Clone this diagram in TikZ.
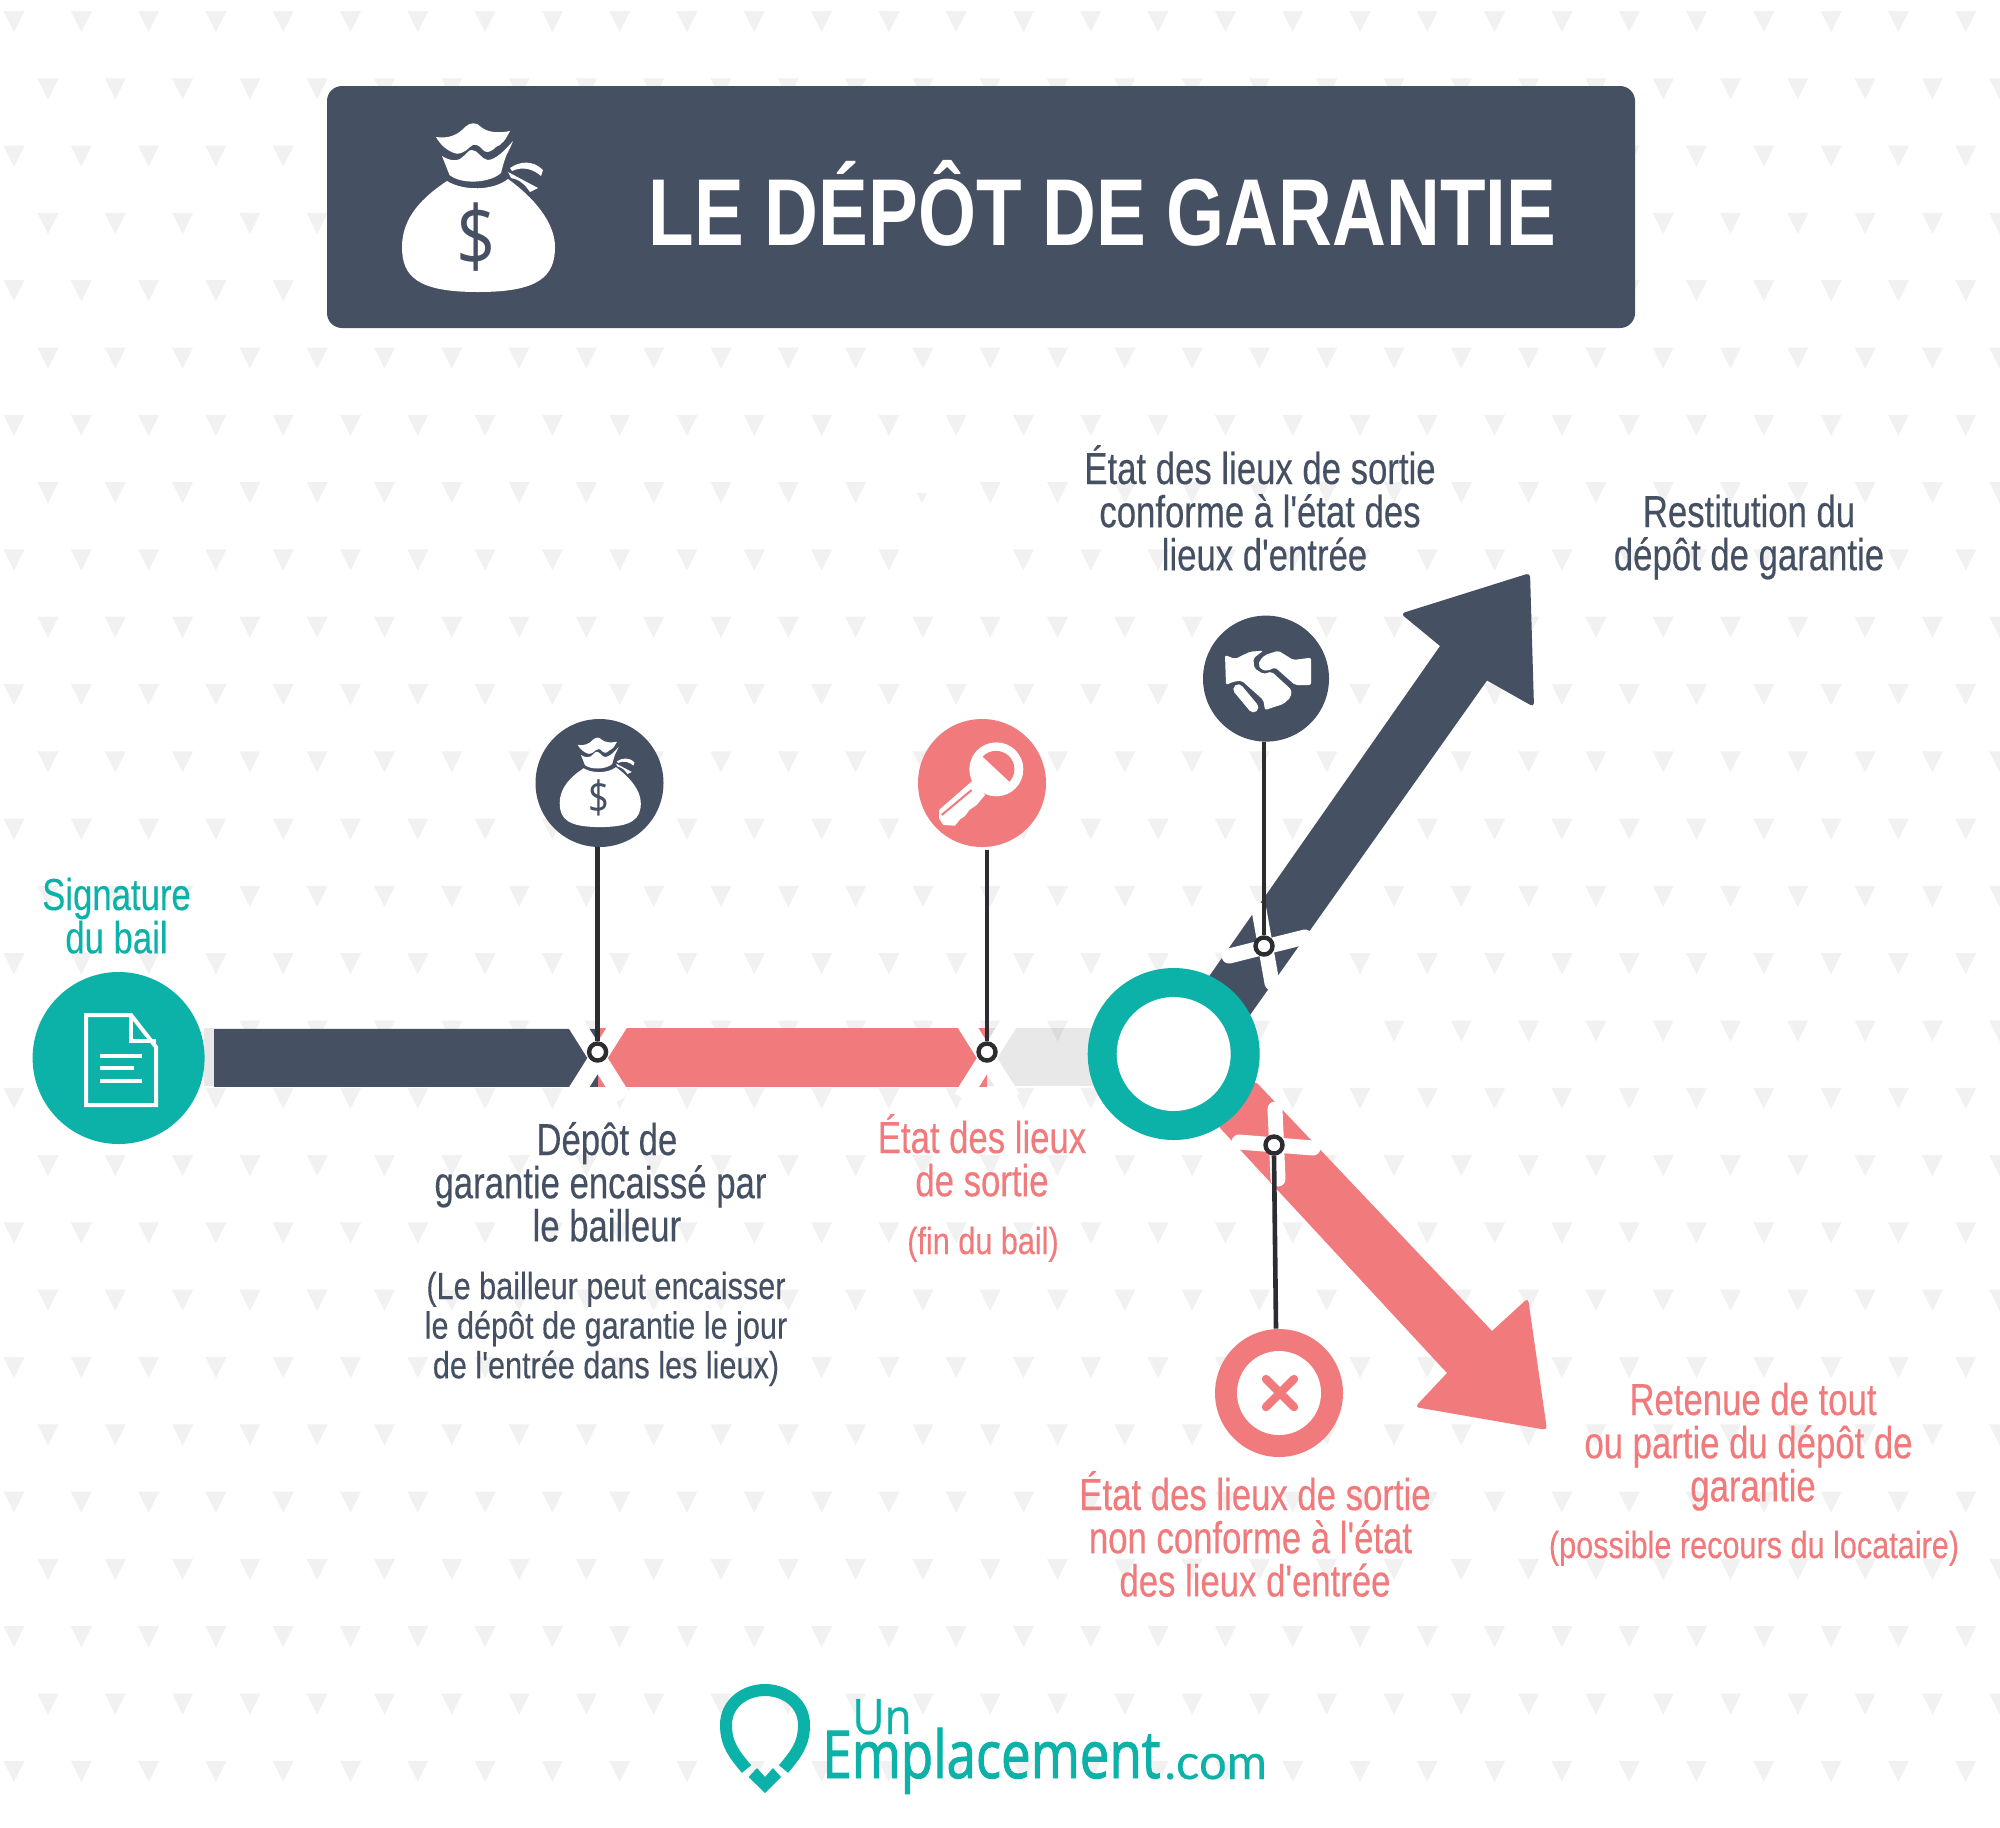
\documentclass[tikz,border=0pt]{standalone}
\usepackage{fontspec}
\setmainfont{Liberation Sans}
\newfontfamily\titlefont[FakeStretch=0.785]{Liberation Sans Bold}
\newfontfamily\bodyfont[FakeStretch=0.775,FakeBold=0.25]{Liberation Sans}
\newfontfamily\smallbodyfont[FakeStretch=0.81,FakeBold=0.25]{Liberation Sans}
\newfontfamily\dollarfont[FakeStretch=0.82]{Open Sans}
\newfontfamily\logofont[FakeStretch=0.8,FakeBold=1.4]{Open Sans}
\newfontfamily\unfont[FakeStretch=0.9,FakeBold=0.4]{Open Sans}
\newfontfamily\comfont[FakeBold=0.3]{Lato}
\definecolor{navy}{HTML}{465063}
\definecolor{rose}{HTML}{F07A7C}
\definecolor{teal}{HTML}{0CB1A7}
\definecolor{pinline}{HTML}{2B2D30}
\definecolor{tri}{HTML}{F1F1F1}
\newcommand{\maintext}{\fontsize{22.4}{21.6}\selectfont}
\newcommand{\smalltext}{\fontsize{18.9}{19.8}\selectfont}
\newcommand{\blk}[1]{\begin{tabular}[t]{@{}c@{}}#1\end{tabular}}
\newcommand{\ls}[1]{\smash{#1}}
\tikzset{
  bigtext/.style={anchor=base,inner sep=0pt,font=\bodyfont\maintext},
  smalltxt/.style={anchor=base,inner sep=0pt,font=\smallbodyfont\smalltext},
  disc/.style={circle,inner sep=0pt,minimum size=64pt},
  ringdot/.style={circle,inner sep=0pt,minimum size=8.5pt,fill=white,draw=pinline,line width=2.2pt},
  pinl/.style={draw=pinline,line width=2.3pt},
  xarm/.style={draw=white,line width=7.5pt,line cap=round},
  railx/.style={draw=white,line width=8.6pt,line cap=butt},
  moneybag/.pic={
    \fill[white] (-31,-26) .. controls (-15,-16) and (15,-16) .. (30,-28)
      .. controls (55,-10) and (77,15) .. (77,40)
      .. controls (77,70) and (60,85) .. (0,85)
      .. controls (-60,85) and (-76,70) .. (-76,40)
      .. controls (-76,10) and (-55,-10) .. (-31,-26) -- cycle;
    \fill[white] (-42,-70) .. controls (-30,-68) and (-20,-72) .. (-13,-80)
      .. controls (-8,-85) and (-1,-85) .. (3,-80)
      .. controls (10,-74) and (22,-74) .. (32,-76)
      .. controls (28,-68) and (24,-62) .. (18,-60)
      .. controls (12,-54) and (8,-54) .. (5,-57)
      .. controls (0,-63) and (-4,-64) .. (-8,-60)
      .. controls (-14,-54) and (-20,-52) .. (-24,-54)
      .. controls (-32,-57) and (-38,-63) .. (-42,-70) -- cycle;
    \fill[white] (-36,-51) .. controls (-28,-46) and (-22,-46) .. (-18,-48)
      .. controls (-12,-52) and (-9,-58) .. (-6,-57)
      .. controls (0,-57) and (3,-48) .. (9.5,-47)
      .. controls (18,-47) and (28,-58) .. (35,-66)
      .. controls (32,-58) and (28,-52) .. (27,-48)
      .. controls (25,-42) and (24,-38) .. (23,-34)
      .. controls (12,-24) and (-16,-22) .. (-28.5,-32) -- cycle;
    \fill[white] (32,-39) .. controls (42,-46) and (55,-47) .. (65,-37) -- (63,-31)
      .. controls (55,-38) and (45,-41) .. (34,-36) -- cycle;
    \fill[white] (30,-35) -- (60,-19) -- (52,-15) .. controls (46,-24) and (40,-28) .. (33,-29) -- cycle;
    \node[inner sep=0pt,text=navy,transform shape,font=\dollarfont\fontsize{42}{42}\selectfont] at (-2,30) {\$};
  }
}
\begin{document}
\begin{tikzpicture}[x=0.5pt,y=-0.5pt]
\useasboundingbox (0,0) rectangle (2000,1827);
\clip (0,0) rectangle (2000,1827);
\fill[white] (0,0) rectangle (2000,1827);
% background pattern
\foreach \r in {0,...,26}{
  \pgfmathsetmacro{\yy}{11+67.3*\r}
  \pgfmathsetmacro{\xo}{mod(\r,2)==0 ? 14 : 48}
  \foreach \c in {0,...,29}{
    \pgfmathsetmacro{\xx}{\xo+67.3*\c}
    \fill[tri] (\xx-10.5,\yy) -- (\xx+10.5,\yy) -- (\xx,\yy+21) -- cycle;
  }
}
\fill[white] (1293,963) circle[radius=17] (1326,1030) circle[radius=17] (956,560) circle[radius=17] (922,492) circle[radius=17];
\fill[tri] (917,493) -- (927,493) -- (922,503) -- cycle;
% grey rail
\fill[black,opacity=0.09] (204,1028) rectangle (1105,1086);
% arrows
\fill[navy] (1180,1030) -- (1210,975) -- (1440,646)
  [rounded corners=2pt] -- (1400.7,613.6) -- (1530,573) -- (1534,707)
  [sharp corners] -- (1487,680.5) -- (1250,1015) -- (1200,1060) -- cycle;
\fill[rose] (1190,1070) -- (1257,1083) -- (1492,1331)
  [rounded corners=2pt] -- (1528,1298) -- (1547,1430) -- (1415,1407)
  [sharp corners] -- (1447,1373) -- (1220,1128) -- cycle;
% rail bars
\fill[navy] (214,1029) rectangle (598,1087);
\fill[rose] (598,1028) rectangle (987,1087);
% crosses
\draw[railx] (572.4,1018) -- (622.8,1098) (622.8,1018) -- (572.4,1098);
\draw[railx] (961.8,1018) -- (1012.2,1098) (1012.2,1018) -- (961.8,1098);
\draw[xarm] (1229,956) -- (1305,937) (1259,910) -- (1272,983);
\draw[xarm] (1275,1109) -- (1278,1179) (1239,1142) -- (1313,1148);
% ring
\node[circle,inner sep=0pt,minimum size=86pt,fill=teal] (hub) at (1173.7,1054) {};
\fill[white] (hub.center) circle[radius=57];
% start disc and icon
\node[disc,minimum size=86pt,fill=teal] (sign) at (118.6,1058) {};
\draw[white,line width=2pt,line join=miter] (86,1015) -- (131,1015) -- (156,1047) -- (156,1105) -- (86,1105) -- cycle;
\draw[white,line width=2pt] (131,1015) -- (131,1041) -- (156,1041);
\draw[white,line width=2pt] (100,1056) -- (142,1056) (100,1068) -- (134,1068) (100,1081) -- (142,1081);
% pins
\node[disc,fill=navy] (money) at (599.5,783) {};
\node[disc,fill=rose] (keyd) at (982,783) {};
\node[disc,minimum size=63pt,fill=navy] (hands) at (1266,678.6) {};
\node[disc,fill=rose] (nok) at (1279,1393) {};
\node[ringdot] (d1) at (597.6,1052) {};
\node[ringdot] (d2) at (987,1052) {};
\node[ringdot] (d3) at (1264,946) {};
\node[ringdot] (d4) at (1274,1145) {};
\draw[pinl] (d1.north) -- (d1.north |- money.south);
\draw[pinl] (d2.north) -- ([yshift=-1.5pt]d2.north |- keyd.south);
\draw[pinl] (d3.north) -- (d3.north |- hands.south);
\draw[pinl] (d4.south) -- ([xshift=1pt]d4.south |- nok.north);
% icons
\pic[scale=0.53] at (600,782) {moneybag};
\begin{scope}[shift={(910,710)},scale=0.3333]
  \fill[white] (259,178) circle[radius=81];
  \fill[white] (190,210) -- (87,300) -- (87,325) -- (100,345) -- (135,347) -- (150,328) -- (165,318) -- (178,300) -- (200,285) -- (225,255) -- cycle;
  \fill[rose] (218,140) arc[start angle=223,end angle=403,radius=55] -- cycle;
  \draw[rose,line width=1pt] (185,240) -- (95,315);
\end{scope}
\begin{scope}[shift={(1200,610)},scale=0.3333]
  \fill[white,rounded corners=1pt] (75,135) -- (105,147) -- (150,125) -- (190,122) -- (160,145) -- (163,175) -- (190,192) -- (215,185) -- (275,240) -- (272,262) -- (250,282) -- (195,300) -- (190,270) -- (125,212) -- (100,215) -- (78,225) -- cycle;
  \fill[white,rounded corners=1pt] (195,135) -- (235,122) -- (280,150) -- (333,143) -- (333,225) -- (285,225) -- (225,172) -- (205,182) -- (185,180) -- (175,165) -- (180,150) -- cycle;
  \draw[white,line width=5pt,line cap=round] (115,238) -- (160,292);
\end{scope}
\fill[white] (nok.center) circle[radius=42];
\draw[rose,line width=4.2pt,line cap=round] (1266,1379) -- (1294,1407) (1294,1379) -- (1266,1407);
% title
\fill[navy,rounded corners=7.5pt] (327,86) rectangle (1635,328);
\pic at (478,207) {moneybag};
\node[anchor=base,inner sep=0pt,text=white,font=\titlefont\fontsize{47.5}{50}\selectfont] (title) at (1102.5,245) {LE DÉPÔT DE GARANTIE};
% texts
\node[bigtext,text=teal] (t1) at (116.5,910) {\blk{\ls{Signature}\\\ls{du bail}}};
\node[bigtext,text=navy] (t2) at (600.5,1155) {\blk{\ls{\hspace*{6.4pt}Dépôt de}\\\ls{garantie encaissé par}\\\ls{\hspace*{6.4pt}le bailleur}}};
\node[smalltxt,text=navy] (t3) at (606,1299) {\blk{\ls{(Le bailleur peut encaisser}\\\ls{le dépôt de garantie le jour}\\\ls{de l'entrée dans les lieux)}}};
\node[bigtext,text=rose] (t4) at (982,1153) {\blk{\ls{État des lieux}\\\ls{de sortie}}};
\node[smalltxt,text=rose] (t5) at (983,1254) {(fin du bail)};
\node[bigtext,text=navy] (t6) at (1260,484) {\blk{\ls{État des lieux de sortie}\\\ls{conforme à l'état des}\\\ls{\hspace*{4.5pt}lieux d'entrée}}};
\node[bigtext,text=navy] (t7) at (1749,527) {\blk{\ls{Restitution du}\\\ls{dépôt de garantie}}};
\node[bigtext,text=rose] (t8) at (1255,1510) {\blk{\ls{État des lieux de sortie}\\\ls{non conforme à l'état\hspace*{4.5pt}}\\\ls{des lieux d'entrée}}};
\node[bigtext,text=rose] (t9) at (1753,1415) {\blk{\ls{Retenue de tout}\\\ls{ou partie du dépôt de\hspace*{4.5pt}}\\\ls{garantie}}};
\node[smalltxt,text=rose] (t10) at (1754,1558) {(possible recours du locataire)};
% logo
\draw[teal,line width=6pt] (746.5,1769) .. controls (735,1755) and (726,1745) .. (726,1725)
  .. controls (726,1703) and (745,1690) .. (765,1690)
  .. controls (785,1690) and (804,1703) .. (804,1725)
  .. controls (804,1745) and (795,1755) .. (783.5,1769);
\fill[teal] (748.6,1777) -- (757,1768) -- (765,1777) -- (773,1768) -- (781,1777) -- (765,1793) -- cycle;
\node[anchor=base west,inner sep=0pt,text=teal,font=\unfont\fontsize{24.5}{25}\selectfont] (un) at (852,1734) {Un};
\node[anchor=base west,inner sep=0pt,text=teal,font=\logofont\fontsize{33}{33}\selectfont] (emp) at (822,1778) {Emplacement};
\node[anchor=base west,inner sep=0pt,text=teal,font=\comfont\fontsize{24.5}{24}\selectfont] (com) at (1164,1779) {.com};
\end{tikzpicture}
\end{document}
